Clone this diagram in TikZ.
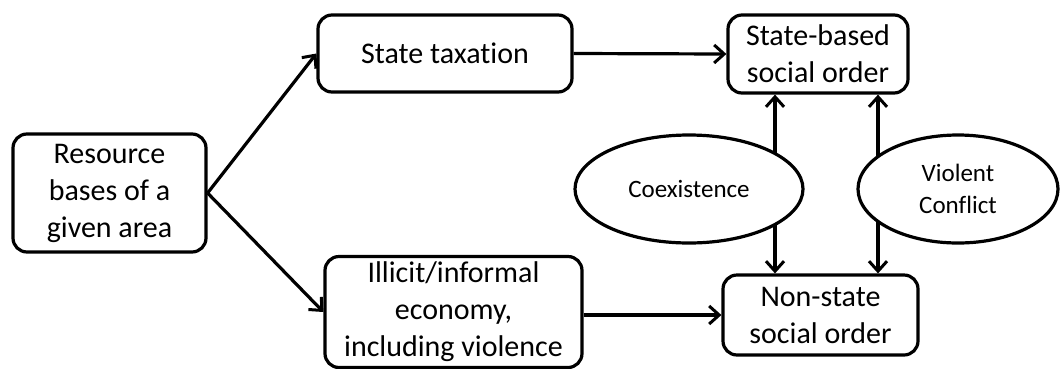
\documentclass[tikz,border=0pt]{standalone}
\usepackage{fontspec}
\setmainfont{Carlito}[Ligatures={NoCommon}]
\usetikzlibrary{arrows.meta,shapes.geometric}
\begin{document}
\begin{tikzpicture}[x=1pt,y=-1pt,
  box/.style={draw,line width=3.2pt,rounded corners=14pt,align=center,inner sep=0pt,
    font=\fontsize{30}{37}\selectfont},
  oval/.style={draw,ellipse,line width=3.2pt,fill=white,align=center,inner sep=0pt,
    font=\fontsize{25}{32}\selectfont},
  arr/.style={line width=3.2pt,-{Straight Barb[length=10pt,width=18pt,line width=3pt]}},
  darr/.style={line width=3.2pt,{Straight Barb[length=10pt,width=18pt,line width=3pt]}-{Straight Barb[length=10pt,width=18pt,line width=3pt]}}]
\useasboundingbox (0,0) rectangle (1060,368);
\node[box,minimum width=193pt,minimum height=118pt] (res) at (109.5,193) {Resource\\bases of a\\given area};
\node[box,minimum width=254pt,minimum height=77pt] (tax) at (445,53.5) {State taxation};
\node[box,minimum width=180pt,minimum height=78pt] (sb) at (818,54) {State-based\\social order};
\node[box,minimum width=195pt,minimum height=80pt] (ns) at (820.5,315) {Non-state\\social order};
\node[box,minimum width=257pt,minimum height=107pt] (ill) at (453.5,312) {\raisebox{-3pt}{\begin{tabular}{@{}c@{}}Illicit/informal\\economy,\\including violence\end{tabular}}};
\draw[arr] (res.east) -- (tax.west);
\draw[arr] (res.east) -- (ill.west);
\draw[arr] (tax.east) -- (sb.west);
\draw[arr] (ns.west -| ill.east) -- (ns.west);
\coordinate (a1) at (775,0);
\coordinate (a2) at (878,0);
\draw[darr] (a1 |- sb.south) -- (a1 |- ns.north);
\draw[darr] (a2 |- sb.south) -- (a2 |- ns.north);
\node[oval,minimum width=228pt,minimum height=108pt] (co) at (689,189) {Coexistence};
\node[oval,minimum width=200pt,minimum height=108pt] (vc) at (958,189) {Violent\\Conflict};
\end{tikzpicture}
\end{document}
